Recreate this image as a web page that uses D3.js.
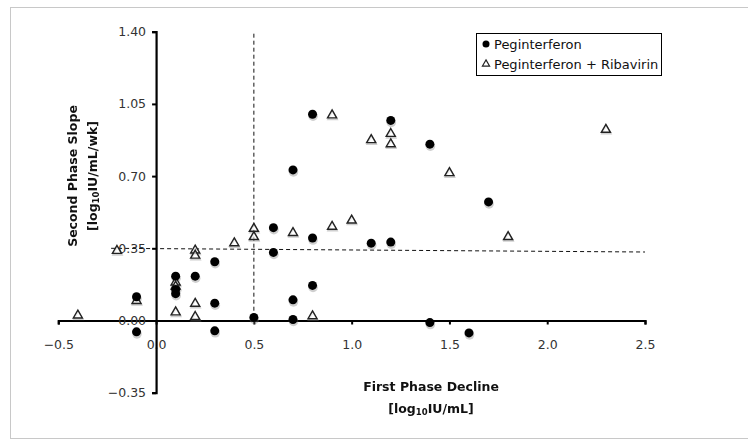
<!doctype html>
<html lang="en">
   <head>
      <meta charset="utf-8">
      <title>First vs Second Phase</title>
      <script src="https://cdn.jsdelivr.net/npm/d3@7"></script>
      <style>
         body { margin: 0; background: #fff; }
         text { font-family: "DejaVu Sans", Verdana, sans-serif; fill: #222; }
         .tick text { font-size: 12.5px; fill: #333; }
         .title { font-size: 12.5px; font-weight: bold; text-anchor: middle; fill: #111; }
         .legend text { font-size: 13px; fill: #111; }
      </style>
   </head>
   <body>
      <svg width="748" height="441"></svg>
      <script>
         // Peginterferon (circles)
         var pegX = [0.8, 1.2, 1.4, 0.7, 1.7, 0.6, 0.8, 1.1, 1.2, 0.6, 0.8, 0.7, 0.5, 0.7, 1.4, 1.6,
                     -0.1, -0.1, 0.1, 0.1, 0.1, 0.2, 0.3, 0.3, 0.3];
         var pegY = [1.00, 0.97, 0.855, 0.73, 0.575, 0.45, 0.40, 0.375, 0.38, 0.33, 0.17, 0.10, 0.015, 0.005, -0.01, -0.06,
                     0.115, -0.055, 0.215, 0.15, 0.13, 0.215, 0.285, 0.084, -0.05];
         // Peginterferon + Ribavirin (triangles)
         var ribX = [0.9, 1.2, 1.1, 1.2, 1.5, 1.0, 0.9, 0.7, 0.5, 0.5, 1.8, 0.4, 0.8, 2.3,
                     -0.4, -0.2, -0.1, 0.1, 0.1, 0.1, 0.2, 0.2, 0.2, 0.2];
         var ribY = [1.00, 0.91, 0.88, 0.86, 0.72, 0.49, 0.46, 0.43, 0.45, 0.41, 0.41, 0.38, 0.026, 0.93,
                     0.03, 0.343, 0.10, 0.19, 0.17, 0.045, 0.345, 0.32, 0.087, 0.023];
         var xTicks = [-0.5, 0.0, 0.5, 1.0, 1.5, 2.0, 2.5];
         var yTicks = [-0.35, 0.00, 0.35, 0.70, 1.05, 1.40];
         var seriesNames = ["Peginterferon", "Peginterferon + Ribavirin"];
         // reference lines
         var cutX = 0.5;
         var fitLine = [[-0.23, 0.35], [2.5, 0.332]];

         var svg = d3.select("svg");
         var x = d3.scaleLinear().domain([-0.5, 2.5]).range([58.3, 645]);
         var y = d3.scaleLinear().domain([-0.35, 1.40]).range([392.7, 31.7]);

         // outer frame
         svg.append("rect").attr("x", 10.5).attr("y", 7.5).attr("width", 760).attr("height", 431)
           .attr("fill", "none").attr("stroke", "#c8c8c8");

         // dashed lines
         svg.append("line")
           .attr("x1", x(cutX)).attr("x2", x(cutX)).attr("y1", y(1.40) + 2).attr("y2", y(0))
           .attr("stroke", "#111").attr("stroke-dasharray", "4,3");
         svg.append("line")
           .attr("x1", x(fitLine[0][0])).attr("y1", y(fitLine[0][1]))
           .attr("x2", x(fitLine[1][0])).attr("y2", y(fitLine[1][1]))
           .attr("stroke", "#111").attr("stroke-dasharray", "4,3");

         // axes
         var xAxis = svg.append("g").attr("transform", "translate(0," + y(0) + ")")
           .call(d3.axisBottom(x).tickValues(xTicks).tickSize(4).tickPadding(16).tickFormat(d3.format(".1f")));
         var yAxis = svg.append("g").attr("transform", "translate(" + x(0) + ",0)")
           .call(d3.axisLeft(y).tickValues(yTicks).tickSize(4).tickPadding(6).tickFormat(d3.format(".2f")));
         [xAxis, yAxis].forEach(g => {
           g.select(".domain").attr("stroke", "#000").attr("stroke-width", 2.2);
           g.selectAll(".tick line").attr("stroke", "#000").attr("stroke-width", 2);
         });

         // markers
         var tri = d3.symbol().type(d3.symbolTriangle).size(36);
         var pegData = pegX.map((d, i) => [d, pegY[i]]);
         var ribData = ribX.map((d, i) => [d, ribY[i]]);

         var shadow = svg.append("g").attr("opacity", 0.35);
         shadow.selectAll("circle").data(pegData).enter().append("circle")
           .attr("cx", d => x(d[0]) + 0.5).attr("cy", d => y(d[1]) + 2).attr("r", 4.8).attr("fill", "#777");
         shadow.selectAll("path").data(ribData).enter().append("path")
           .attr("d", tri).attr("transform", d => "translate(" + (x(d[0]) + 0.5) + "," + (y(d[1]) + 2.5) + ")")
           .attr("fill", "none").attr("stroke", "#777").attr("stroke-width", 1.6);

         svg.append("g").selectAll("path").data(ribData).enter().append("path")
           .attr("d", tri).attr("transform", d => "translate(" + x(d[0]) + "," + (y(d[1]) + 1) + ")")
           .attr("fill", "#fff").attr("fill-opacity", 0.6).attr("stroke", "#222").attr("stroke-width", 1.4);
         svg.append("g").selectAll("circle").data(pegData).enter().append("circle")
           .attr("cx", d => x(d[0])).attr("cy", d => y(d[1])).attr("r", 4.5).attr("fill", "#000");

         // axis titles
         svg.append("text").attr("class", "title").attr("x", 431).attr("y", 391).text("First Phase Decline");
         var t2 = svg.append("text").attr("class", "title").attr("x", 431).attr("y", 413);
         t2.append("tspan").text("[log");
         t2.append("tspan").attr("font-size", "8.5px").attr("dy", 2).text("10");
         t2.append("tspan").attr("dy", -2).text("IU/mL]");

         var yt = svg.append("g").attr("transform", "translate(77,176) rotate(-90)");
         yt.append("text").attr("class", "title").attr("x", 0).attr("y", 0).text("Second Phase Slope");
         var yt2 = yt.append("text").attr("class", "title").attr("x", 0).attr("y", 20);
         yt2.append("tspan").text("[log");
         yt2.append("tspan").attr("font-size", "8.5px").attr("dy", 2).text("10");
         yt2.append("tspan").attr("dy", -2).text("IU/mL/wk]");

         // legend
         var lg = svg.append("g").attr("class", "legend");
         lg.append("rect").attr("x", 476.5).attr("y", 33.5).attr("width", 185).attr("height", 42)
           .attr("fill", "#fff").attr("stroke", "#000");
         lg.append("circle").attr("cx", 486).attr("cy", 44).attr("r", 3.5).attr("fill", "#000");
         lg.append("path").attr("d", d3.symbol().type(d3.symbolTriangle).size(22))
           .attr("transform", "translate(486,64)").attr("fill", "#fff").attr("stroke", "#222").attr("stroke-width", 1.2);
         lg.selectAll("text.lbl").data(seriesNames).enter().append("text").attr("class", "lbl")
           .attr("x", 494).attr("y", (d, i) => 49 + i * 20).text(d => d);
      </script>
   </body>
</html>
